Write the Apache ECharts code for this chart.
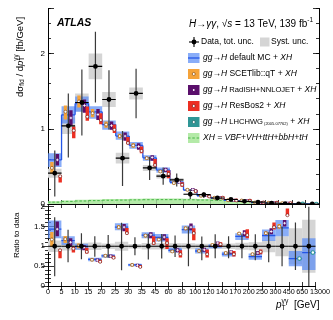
<!DOCTYPE html>
<html>
<head>
<meta charset="utf-8">
<script src="https://cdn.jsdelivr.net/npm/echarts@6.0.0/dist/echarts.min.js"></script>
<style>
html,body{margin:0;padding:0;background:#ffffff;}
#chart{width:333px;height:320px;}
</style>
</head>
<body>
<div id="chart"></div>
<script>
// ---------------- data ----------------
const binEdges = ['0','5','10','15','20','25','30','35','45','60','80','100','120','140','170','200','250','300','450','650','13000'];
// measured cross section [fb/GeV] per bin, with total and systematic uncertainties
const dataXs   = [0.41,1.04,1.35,1.83,1.39,0.61,1.47,0.48,0.37,0.32,0.13,0.125,0.08,0.06,0.035,0.025,0.012,0.006,0.002,0.0003];
const totUp    = [0.30,0.43,0.44,0.46,0.39,0.36,0.33,0.15,0.115,0.087,0.065,0.031,0.024,0.015,0.0105,0.0075,0.0042,0.003,0.0012,0.0006];
const totDown  = [0.31,0.42,0.44,0.48,0.40,0.37,0.33,0.16,0.115,0.087,0.065,0.044,0.024,0.018,0.0105,0.0088,0.0048,0.003,0.0012,0.0006];
const systUnc  = [0.06,0.11,0.12,0.17,0.10,0.07,0.08,0.04,0.03,0.025,0.01,0.008,0.005,0.004,0.003,0.0025,0.0018,0.0015,0.0009,0.0002];
// predictions as ratio to data (central, low, high)
const mcR   = [1.43,1.14,0.99,0.67,0.76,1.48,0.53,1.28,1.22,0.90,1.42,0.88,1.00,0.80,1.25,0.74,1.27,1.46,0.69,0.84];
const mcLo  = [1.20,1.03,0.91,0.62,0.71,1.40,0.50,1.20,1.12,0.84,1.32,0.82,0.95,0.74,1.16,0.66,1.13,1.25,0.50,0.40];
const mcHi  = [1.65,1.25,1.06,0.71,0.80,1.58,0.56,1.35,1.31,0.96,1.52,0.95,1.05,0.86,1.33,0.82,1.42,1.66,0.88,1.20];
const scetR  = [1.17,1.18,1.01,0.66,0.76,1.48,0.53,1.27,1.17,0.87,1.45,0.88,1.03,0.83,1.32,0.80,1.33,1.50,null,null];
const scetLo = [0.98,1.08,0.95,0.63,0.73,1.43,0.51,1.22,1.13,0.84,1.40,0.85,1.00,0.80,1.28,0.77,1.29,1.44,null,null];
const scetHi = [1.36,1.26,1.07,0.69,0.79,1.53,0.55,1.31,1.21,0.90,1.50,0.91,1.06,0.86,1.36,0.83,1.37,1.56,null,null];
const radR   = [1.43,1.10,0.97,0.65,0.75,1.48,0.52,1.29,1.23,0.90,1.48,0.91,1.08,0.86,1.33,0.83,1.37,1.58,null,null];
const radLo  = [1.25,1.00,0.90,0.61,0.71,1.38,0.49,1.20,1.15,0.85,1.40,0.86,1.02,0.81,1.26,0.78,1.30,1.50,null,null];
const radHi  = [1.62,1.20,1.03,0.69,0.79,1.56,0.55,1.35,1.30,0.95,1.57,0.96,1.12,0.90,1.40,0.88,1.45,1.66,null,null];
const resR   = [0.90,0.94,0.86,0.61,0.71,1.33,0.48,1.08,1.08,0.80,1.33,0.80,1.05,0.80,1.28,0.86,1.48,1.78,null,null];
const resLo  = [0.70,0.84,0.82,0.58,0.68,1.30,0.46,1.04,0.93,0.72,1.15,0.72,0.98,0.74,1.20,0.80,1.42,1.76,null,null];
const resHi  = [0.92,0.99,0.96,0.66,0.76,1.46,0.52,1.25,1.20,0.90,1.45,0.92,1.10,0.88,1.43,0.92,1.60,1.95,null,null];
const lhcR   = [null,null,null,null,null,null,null,null,null,null,null,null,null,null,null,null,null,null,0.69,0.84];
// XH = VBF+VH+ttH+bbH+tH [fb/GeV]
const xhVal = [0.025,0.035,0.040,0.045,0.050,0.052,0.055,0.057,0.058,0.058,0.056,0.053,0.050,0.045,0.040,0.032,0.022,0.012,0.004,0.001];
const xhHi  = [0.035,0.048,0.055,0.060,0.065,0.068,0.070,0.072,0.073,0.073,0.070,0.067,0.063,0.057,0.050,0.040,0.028,0.016,0.006,0.0015];

// ---------------- styling ----------------
const FONT = '"Liberation Sans", Arial, Helvetica, sans-serif';
const N = dataXs.length;
const idx = Array.from({length: N}, (_, i) => i);
const C = {
  syst: '#d5d5d5', band: 'rgba(92,142,245,0.72)', line: '#2456e6',
  orange: '#f5a33a', purple: '#5a0f6b', red: '#ec2f22', teal: '#2f9696',
  gFill: '#b4eaa8', gLine: '#45b545'
};
const preds = [
  {c: scetR, lo: scetLo, hi: scetHi, off: 0.29, color: C.orange, mk: 'circle', st: '#8a4f10'},
  {c: radR,  lo: radLo,  hi: radHi,  off: 0.69, color: C.purple, mk: 'plus'},
  {c: resR,  lo: resLo,  hi: resHi,  off: 0.90, color: C.red,    mk: 'circle', st: '#7a1510'}
];

function rectEl(a, b, style) {
  return {type: 'rect', shape: {x: Math.min(a[0], b[0]), y: Math.min(a[1], b[1]),
    width: Math.abs(b[0] - a[0]), height: Math.abs(b[1] - a[1])}, style};
}
function lineEl(a, b, style) {
  return {type: 'line', shape: {x1: a[0], y1: a[1], x2: b[0], y2: b[1]}, style};
}

function panelSeries(xi, yi, yr, val, d, s, up, dn, upper) {
  const cl = v => Math.max(yr[0], Math.min(yr[1], v));
  const base = {type: 'custom', xAxisIndex: xi, yAxisIndex: yi, silent: true, animation: false, clip: true,
    data: idx.map(i => [i + 0.5, cl(d(i))])};
  const out = [];
  // systematic boxes
  out.push(Object.assign({}, base, {z: 1, renderItem: (p, api) => {
    const i = p.dataIndex;
    return rectEl(api.coord([i, cl(d(i) + s(i))]), api.coord([i + 1, cl(d(i) - s(i))]), {fill: C.syst});
  }}));
  if (upper) {
    out.push(Object.assign({}, base, {z: 2, renderItem: (p, api) => {
      const i = p.dataIndex;
      return rectEl(api.coord([i, xhHi[i]]), api.coord([i + 1, 0]), {fill: C.gFill});
    }}));
    out.push(Object.assign({}, base, {z: 3, renderItem: (p, api) => {
      const i = p.dataIndex;
      return lineEl(api.coord([i, xhVal[i]]), api.coord([i + 1, xhVal[i]]), {stroke: C.gLine, lineWidth: 1, lineDash: [2.5, 1.8]});
    }}));
  }
  // default MC band and line
  out.push(Object.assign({}, base, {z: 4, renderItem: (p, api) => {
    const i = p.dataIndex;
    return rectEl(api.coord([i, cl(val(i, mcHi[i]))]), api.coord([i + 1, cl(val(i, mcLo[i]))]), {fill: C.band});
  }}));
  out.push(Object.assign({}, base, {z: 5, renderItem: (p, api) => {
    const i = p.dataIndex;
    const a = api.coord([i, cl(val(i, mcR[i]))]), b = api.coord([i + 1, cl(val(i, mcR[i]))]);
    const ch = [lineEl(a, b, {stroke: C.line, lineWidth: 1.3})];
    if (upper && i > 0) {
      const q = api.coord([i, cl(val(i - 1, mcR[i - 1]))]);
      ch.push(lineEl([a[0], q[1]], a, {stroke: C.line, lineWidth: 1.3}));
    }
    return {type: 'group', children: ch};
  }}));
  // other predictions
  preds.forEach(pr => {
    out.push(Object.assign({}, base, {z: 6, renderItem: (p, api) => {
      const i = p.dataIndex;
      if (pr.c[i] == null) return;
      const cx = api.coord([i + pr.off, 0])[0];
      let yt = api.coord([0, cl(val(i, pr.hi[i]))])[1];
      let yb = api.coord([0, cl(val(i, pr.lo[i]))])[1];
      if (yb - yt < 3) { const m = (yt + yb) / 2; yt = m - 1.5; yb = m + 1.5; }
      const ym = api.coord([0, cl(val(i, pr.c[i]))])[1];
      const ch = [{type: 'rect', shape: {x: cx - 1.7, y: yt, width: 3.4, height: yb - yt}, style: {fill: pr.color}}];
      if (pr.mk === 'circle') {
        ch.push({type: 'circle', shape: {cx: cx, cy: ym, r: 1.5}, style: {fill: '#fff', stroke: pr.st, lineWidth: 0.7}});
      } else {
        ch.push(lineEl([cx - 1.3, ym], [cx + 1.3, ym], {stroke: '#fff', lineWidth: 0.9}));
        ch.push(lineEl([cx, ym - 1.3], [cx, ym + 1.3], {stroke: '#fff', lineWidth: 0.9}));
      }
      return {type: 'group', children: ch};
    }}));
  });
  // LHCHWG
  out.push(Object.assign({}, base, {z: 7, renderItem: (p, api) => {
    const i = p.dataIndex;
    if (lhcR[i] == null) return;
    const c = api.coord([i + 0.8, cl(val(i, lhcR[i]))]);
    return {type: 'circle', shape: {cx: c[0], cy: c[1], r: 1.8}, style: {fill: '#fff', stroke: C.teal, lineWidth: 1.1}};
  }}));
  // data
  out.push(Object.assign({}, base, {z: 8, renderItem: (p, api) => {
    const i = p.dataIndex, y = d(i);
    const c = api.coord([i + 0.5, cl(y)]);
    const t = api.coord([i + 0.5, cl(y + up(i))]), b = api.coord([i + 0.5, cl(y - dn(i))]);
    const l = api.coord([i, cl(y)]), r = api.coord([i + 1, cl(y)]);
    return {type: 'group', children: [
      lineEl(t, b, {stroke: '#3a3a3a', lineWidth: 1.2}),
      lineEl(l, r, {stroke: '#000', lineWidth: 1.2}),
      {type: 'circle', shape: {cx: c[0], cy: c[1], r: 2.4}, style: {fill: '#000'}}
    ]};
  }}));
  return out;
}

const series = [].concat(
  panelSeries(0, 0, [0, 2.6], (i, r) => r * dataXs[i], i => dataXs[i], i => systUnc[i], i => totUp[i], i => totDown[i], true),
  panelSeries(2, 4, [0, 2], (i, r) => r, i => 1, i => systUnc[i] / dataXs[i], i => totUp[i] / dataXs[i], i => totDown[i] / dataXs[i], false)
);

// ---------------- axes ----------------
const axLine = {show: true, lineStyle: {color: '#000', width: 1}};
const XL = 7.2;
function xAx(grid, pos, labels) {
  return {type: 'value', gridIndex: grid, position: pos, min: 0, max: N, interval: 1,
    axisLine: axLine, axisTick: {show: true, inside: true, length: 4, lineStyle: {color: '#000', width: 0.8}},
    axisLabel: labels ? {show: true, showMinLabel: true, showMaxLabel: true, hideOverlap: false,
      formatter: v => { const k = Math.round(v); return k === N ? '{last|' + binEdges[k] + '}' : (binEdges[k] || ''); },
      rich: {last: {fontSize: XL, fontFamily: FONT, color: '#000', padding: [0, 0, 0, 9]}},
      fontSize: XL, fontFamily: FONT, color: '#000', margin: 3} : {show: false},
    splitLine: {show: false}};
}
function yAx(grid, pos, min, max, interval, tickLen, label, minor) {
  return {type: 'value', gridIndex: grid, position: pos, min, max, interval,
    axisLine: axLine, axisTick: {show: true, inside: true, length: tickLen, lineStyle: {color: '#000', width: 0.8}},
    minorTick: minor ? {show: true, splitNumber: 5, length: 3, lineStyle: {color: '#000', width: 0.8}} : {show: false},
    axisLabel: label ? {show: true, showMinLabel: true, showMaxLabel: true, formatter: label, fontSize: 8, fontFamily: FONT, color: '#000', margin: 3} : {show: false},
    splitLine: {show: false}, minorSplitLine: {show: false}};
}
const intLabel = v => (Math.abs(v - Math.round(v)) < 1e-6 ? String(Math.round(v)) : '');
const ratioLabel = v => String(+v.toFixed(1));

// ---------------- text helpers ----------------
const mctx = document.createElement('canvas').getContext('2d');
function tw(t, sz, it, bd) {
  mctx.font = (it ? 'italic ' : '') + (bd ? 'bold ' : '') + sz + 'px ' + FONT;
  return mctx.measureText(t).width;
}
function run(x, y, parts, rot) {
  let cx = 0; const ch = [];
  parts.forEach(pp => {
    const t = pp[0], sz = pp[1], o = pp[2] || {};
    cx += (o.dx || 0);
    ch.push({type: 'text', x: cx, y: (o.dy || 0), silent: true, style: {text: t, fontSize: sz, fontFamily: FONT,
      fontStyle: o.i ? 'italic' : 'normal', fontWeight: o.b ? 'bold' : 'normal', fill: '#000', align: 'left', verticalAlign: 'middle'}});
    if (!o.na) cx += tw(t, sz, o.i, o.b);
  });
  return {type: 'group', x, y, rotation: rot || 0, children: ch, silent: true};
}
const I = {i: 1};
const LS = 8.5;
const gg = [['gg', LS, I], ['\u2192', LS], ['H', LS, I]];
const rows = [58, 74, 90, 106, 122, 138];
const g = [];
// ATLAS + title
g.push(run(57, 23, [['ATLAS', 10.5, {i: 1, b: 1}]]));
g.push(run(189, 24, [['H', 10, I], ['\u2192', 10], ['\u03b3\u03b3', 10, I], [', ', 10], ['\u221a', 10], ['s', 10, I],
  [' = 13 TeV, 139 fb', 10], ['-1', 6.5, {dy: -3.5}]]));
// legend markers
g.push({type: 'line', shape: {x1: 189, y1: 42, x2: 199, y2: 42}, style: {stroke: '#000', lineWidth: 1.1}});
g.push({type: 'line', shape: {x1: 194, y1: 37, x2: 194, y2: 47}, style: {stroke: '#000', lineWidth: 1.1}});
g.push({type: 'circle', shape: {cx: 194, cy: 42, r: 2.4}, style: {fill: '#000'}});
g.push({type: 'rect', shape: {x: 260, y: 37.5, width: 9.5, height: 9}, style: {fill: C.syst}});
g.push(run(201, 42, [['Data, tot. unc.', LS]]));
g.push(run(271, 42, [['Syst. unc.', LS]]));
const boxCols = [C.band, C.orange, C.purple, C.red, C.teal, C.gFill];
rows.forEach((y, k) => {
  g.push({type: 'rect', shape: {x: 188, y: y - 5, width: 11.5, height: 10}, style: {fill: boxCols[k]}});
});
g.push({type: 'line', shape: {x1: 188, y1: rows[0], x2: 199.5, y2: rows[0]}, style: {stroke: C.line, lineWidth: 1.3}});
g.push({type: 'circle', shape: {cx: 193.75, cy: rows[1], r: 1.5}, style: {fill: '#fff', stroke: '#8a4f10', lineWidth: 0.7}});
g.push({type: 'circle', shape: {cx: 193.75, cy: rows[2], r: 0.9}, style: {fill: '#fff'}});
g.push({type: 'circle', shape: {cx: 193.75, cy: rows[3], r: 1.5}, style: {fill: '#fff', stroke: '#7a1510', lineWidth: 0.7}});
g.push({type: 'circle', shape: {cx: 193.75, cy: rows[4], r: 1.5}, style: {fill: '#fff', stroke: '#1d6060', lineWidth: 0.7}});
g.push({type: 'line', shape: {x1: 188, y1: rows[5], x2: 199.5, y2: rows[5]}, style: {stroke: C.gLine, lineWidth: 1, lineDash: [2.5, 1.8]}});
// legend texts
g.push(run(203, rows[0], gg.concat([[' default MC + ', LS], ['XH', LS, I]])));
g.push(run(203, rows[1], gg.concat([[' SCETlib::qT + ', LS], ['XH', LS, I]])));
g.push(run(203, rows[2], gg.concat([[' RadISH+NNLOJET', 7.6], [' + ', LS], ['XH', LS, I]])));
g.push(run(203, rows[3], gg.concat([[' ResBos2 + ', LS], ['XH', LS, I]])));
g.push(run(203, rows[4], gg.concat([[' LHCHWG', 7.6], [' (2005.07762)', 4, {dy: 1.6}], [' + ', LS], ['XH', LS, I]])));
g.push(run(203, rows[5], [['XH = VBF+VH+ttH+bbH+tH', LS, I]]));
// axis titles
g.push(run(20, 97, [['d\u03c3', 9.5], ['fid', 6.3, {dy: 2.6}], [' / d', 9.5], ['p', 9.5, I], ['T', 6.3, {dy: 2.6, na: 1}],
  ['\u03b3\u03b3', 6.3, {dy: -3.6}], [' [fb/GeV]', 9.5]], Math.PI / 2));
g.push(run(17, 258, [['Ratio to data', 8]], Math.PI / 2));
g.push(run(276, 305, [['p', 10, I], ['T', 6.8, {dy: 3, na: 1}], ['\u03b3\u03b3', 6.8, {dy: -4}], ['  [GeV]', 10]]));

const option = {
  backgroundColor: '#ffffff',
  animation: false,
  grid: [
    {left: 48, top: 8.5, width: 271, height: 195.5, containLabel: false},
    {left: 48, top: 206.5, width: 271, height: 79.5, containLabel: false}
  ],
  xAxis: [xAx(0, 'bottom', false), xAx(0, 'top', false), xAx(1, 'bottom', true), xAx(1, 'top', false)],
  yAxis: [
    yAx(0, 'left', 0, 2.6, 0.2, 3, intLabel, false),
    yAx(0, 'left', 0, 2.6, 1, 6, null, false),
    yAx(0, 'right', 0, 2.6, 0.2, 3, null, false),
    yAx(0, 'right', 0, 2.6, 1, 6, null, false),
    yAx(1, 'left', 0, 2, 0.5, 6, ratioLabel, true),
    yAx(1, 'right', 0, 2, 0.5, 6, null, true)
  ],
  series: series,
  graphic: {elements: g}
};
const chart = echarts.init(document.getElementById('chart'), null, {renderer: 'canvas', width: 333, height: 320});
chart.setOption(option);
</script>
</body>
</html>
